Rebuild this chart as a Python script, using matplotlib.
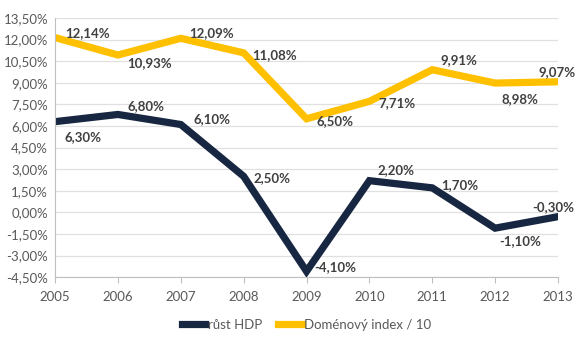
import matplotlib
matplotlib.use("Agg")
import matplotlib.pyplot as plt
from matplotlib.ticker import FuncFormatter, MultipleLocator

plt.rcParams['font.family'] = ['Lato', 'DejaVu Sans']

# data
years = [2005, 2006, 2007, 2008, 2009, 2010, 2011, 2012, 2013]
hdp = [6.30, 6.80, 6.10, 2.50, -4.10, 2.20, 1.70, -1.10, -0.30]
index10 = [12.14, 10.93, 12.09, 11.08, 6.50, 7.71, 9.91, 8.98, 9.07]

# label offsets in pixels (dx, dy), dy positive = up
hdp_off = [(28, -15), (28, 8), (31, 5), (28, -2), (29, 4), (27, 11), (28, 3), (25, -13), (-5, 10)]
idx_off = [(32, 5), (32, -8), (31, 5), (31, -2), (28, -2), (28, -2), (27, 10), (25, -16), (-1, 10)]

navy = "#172641"
gold = "#FFC000"

fig = plt.figure(figsize=(5.8, 3.4), dpi=100)
ax = fig.add_axes([0.095, 0.185, 0.867, 0.762])

ax.plot(years, hdp, color=navy, lw=5.2, label="růst HDP", solid_joinstyle="miter")
ax.plot(years, index10, color=gold, lw=5.2, label="Doménový index / 10", solid_joinstyle="miter")

def pct(v):
    return f"{v:.2f}%".replace(".", ",")

for x, y, (dx, dy) in zip(years, hdp, hdp_off):
    ax.annotate(pct(y), (x, y), xytext=(dx, dy), textcoords="offset pixels",
                ha="center", va="center", fontsize=9.5, fontweight="bold", color="#404040")
for x, y, (dx, dy) in zip(years, index10, idx_off):
    ax.annotate(pct(y), (x, y), xytext=(dx, dy), textcoords="offset pixels",
                ha="center", va="center", fontsize=9.5, fontweight="bold", color="#404040")

ax.set_xlim(2005, 2013)
ax.set_ylim(-4.5, 13.5)
ax.yaxis.set_major_locator(MultipleLocator(1.5))
ax.yaxis.set_major_formatter(FuncFormatter(lambda v, p: pct(v)))
ax.set_xticks(years)

ax.grid(axis="y", color="#E0E0E0", lw=0.9)
ax.set_axisbelow(True)
for s in ["top", "right"]:
    ax.spines[s].set_visible(False)
ax.spines["left"].set_color("#BFBFBF")
ax.spines["bottom"].set_color("#BFBFBF")
ax.tick_params(axis="y", length=0, labelsize=9.5, colors="#595959", pad=5)
ax.tick_params(axis="x", length=4, color="#BFBFBF", labelsize=9.5, labelcolor="#595959", pad=6)

ax.legend(loc="center", bbox_to_anchor=(0.5, -0.185), ncol=2, frameon=False,
          fontsize=9.5, labelcolor="#595959", handlelength=1.8, handletextpad=0.2, columnspacing=1.2)

fig.savefig("out.png", dpi=100)
